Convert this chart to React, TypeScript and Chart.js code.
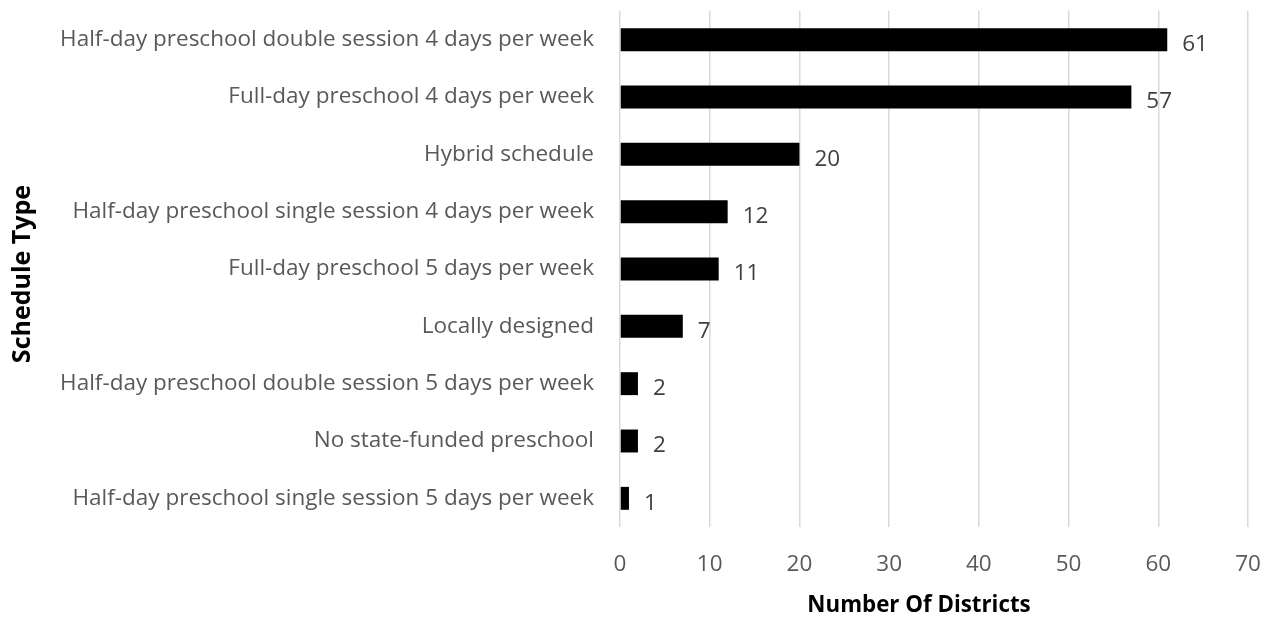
import React, { useEffect, useRef } from "react";
import { Chart, registerables } from "chart.js";

Chart.register(...registerables);

const categories = [
  "Half-day preschool double session 4 days per week",
  "Full-day preschool 4 days per week",
  "Hybrid schedule",
  "Half-day preschool single session 4 days per week",
  "Full-day preschool 5 days per week",
  "Locally designed",
  "Half-day preschool double session 5 days per week",
  "No state-funded preschool",
  "Half-day preschool single session 5 days per week",
];
const districtCounts = [61, 57, 20, 12, 11, 7, 2, 2, 1];
const xTitle = "Number Of Districts";
const yTitle = "Schedule Type";

const FONT = "'Open Sans', 'Noto Sans', sans-serif";

const labelsPlugin = {
  id: "customLabels",
  afterDatasetsDraw(chart: any) {
    const ctx = chart.ctx;
    const meta = chart.getDatasetMeta(0);
    ctx.save();
    ctx.font = `22.5px ${FONT}`;
    ctx.fillStyle = "#404040";
    ctx.textAlign = "left";
    ctx.textBaseline = "middle";
    meta.data.forEach((bar: any, i: number) => {
      ctx.fillText(String(districtCounts[i]), bar.x + 15, bar.y + 5);
    });
    ctx.restore();
  },
  afterDraw(chart: any) {
    const ctx = chart.ctx;
    ctx.save();
    ctx.fillStyle = "#000000";
    ctx.textAlign = "center";
    ctx.textBaseline = "middle";
    ctx.font = `bold 22.3px ${FONT}`;
    ctx.fillText(xTitle, 919, 606);
    ctx.font = `bold 25px ${FONT}`;
    ctx.translate(23, 274);
    ctx.rotate(-Math.PI / 2);
    ctx.fillText(yTitle, 0, 0);
    ctx.restore();
  },
};

export default function App() {
  const ref = useRef<HTMLCanvasElement>(null);
  useEffect(() => {
    document.body.style.margin = "0";
    const chart = new Chart(ref.current!, {
      type: "bar",
      data: {
        labels: categories,
        datasets: [
          {
            data: districtCounts,
            backgroundColor: "#000000",
            borderWidth: 0,
            barPercentage: 0.4,
            categoryPercentage: 1,
          },
        ],
      },
      options: {
        indexAxis: "y",
        animation: false,
        responsive: false,
        maintainAspectRatio: false,
        layout: { padding: { top: 11, right: 21, left: 0, bottom: 0 } },
        plugins: {
          legend: { display: false },
          tooltip: { enabled: false },
        },
        scales: {
          x: {
            min: 0,
            max: 70,
            ticks: {
              stepSize: 10,
              color: "#595959",
              font: { family: FONT, size: 22.5 },
              padding: 24,
            },
            grid: { color: "#d9d9d9", lineWidth: 1.5, drawTicks: false },
            border: { display: false },
            afterFit(scale: any) {
              scale.height = 92;
              scale.paddingLeft = 0;
              scale.paddingRight = 0;
            },
          },
          y: {
            ticks: {
              color: "#595959",
              font: { family: FONT, size: 22.5 },
              padding: 26,
            },
            grid: { display: false, drawTicks: false },
            border: { display: false },
            afterFit(scale: any) {
              scale.width = 620;
              scale.paddingTop = 0;
              scale.paddingBottom = 0;
            },
          },
        },
      },
      plugins: [labelsPlugin],
    });
    return () => chart.destroy();
  }, []);
  return (
    <div style={{ width: 1269, height: 619 }}>
      <canvas ref={ref} width={1269} height={619} />
    </div>
  );
}
